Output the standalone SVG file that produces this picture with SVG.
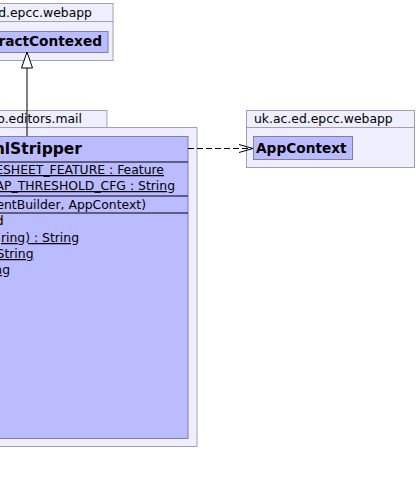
<svg xmlns="http://www.w3.org/2000/svg" width="416" height="484" viewBox="0 0 416 484">
<style>
.pkg{fill:#eeeeff;stroke:#a0a0b0;stroke-width:1}
.cls{fill:#bbbbff;stroke:#7f7fa0;stroke-width:1}
.sep{stroke:#000;stroke-width:1}
text{font-family:"DejaVu Sans",sans-serif;fill:#000}
.pt{font-size:12.4px}
.b{font-size:13.7px;font-weight:bold}
.m{font-size:12.4px}
.u{text-decoration:underline}
.edge{fill:none;stroke:#000;stroke-width:1}
</style>
<rect width="416" height="484" fill="#fff"/>
<g id="pkg-top">
<rect class="pkg" x="-20" y="3.5" width="133" height="18"/>
<rect class="pkg" x="-20" y="21.5" width="133" height="39"/>
<text class="pt" x="92" y="17" text-anchor="end">d.epcc.webapp</text>
</g>
<g id="AbstractContexed">
<rect class="cls" x="-20" y="31.5" width="128" height="21"/>
<text class="b" x="102" y="45.5" text-anchor="end">ractContexed</text>
</g>
<g id="pkg-mail">
<rect class="pkg" x="-20" y="110.5" width="127" height="17"/>
<rect class="pkg" x="-20" y="127.5" width="217" height="319"/>
<text class="pt" x="82" y="123" text-anchor="end">o.editors.mail</text>
</g>
<g id="HtmlStripper">
<rect class="cls" x="-20" y="136.5" width="208" height="302"/>
<text x="82" y="154" text-anchor="end" style="font-size:15.5px;font-weight:bold">mlStripper</text>
<line class="sep" x1="-20" y1="162" x2="188" y2="162"/>
<text class="m u" x="164" y="174" text-anchor="end">ESHEET_FEATURE : Feature</text>
<text class="m u" x="175" y="190" text-anchor="end">AP_THRESHOLD_CFG : String </text>
<line class="sep" x1="-20" y1="196" x2="188" y2="196"/>
<text class="m" x="146" y="209" text-anchor="end">entBuilder, AppContext)</text>
<line class="sep" x1="-20" y1="213" x2="188" y2="213"/>
<text class="m" x="3.5" y="225" text-anchor="end">d</text>
<text class="m u" x="79" y="242" text-anchor="end">ring) : String</text>
<text class="m u" x="33.5" y="258" text-anchor="end">String</text>
<text class="m u" x="10" y="274" text-anchor="end">ng</text>
</g>
<g id="pkg-webapp">
<rect class="pkg" x="246.5" y="110.5" width="168" height="17"/>
<rect class="pkg" x="246.5" y="127.5" width="168" height="40"/>
<text class="pt" x="254" y="123">uk.ac.ed.epcc.webapp</text>
</g>
<g id="AppContext">
<rect class="cls" x="253.5" y="136.5" width="99" height="23"/>
<text class="b" x="256" y="152.5">AppContext</text>
</g>
<g id="connectors">
<line class="edge" x1="27" y1="68" x2="27" y2="136"/>
<polygon points="27,52 21.5,68 32.5,68" fill="#fff" stroke="#000" stroke-width="1"/>
<line class="edge" x1="188" y1="148.5" x2="252" y2="148.5" stroke-dasharray="6,3"/>
<polyline class="edge" points="239,144.5 253,148.5 239,152.5"/>
</g>
</svg>
